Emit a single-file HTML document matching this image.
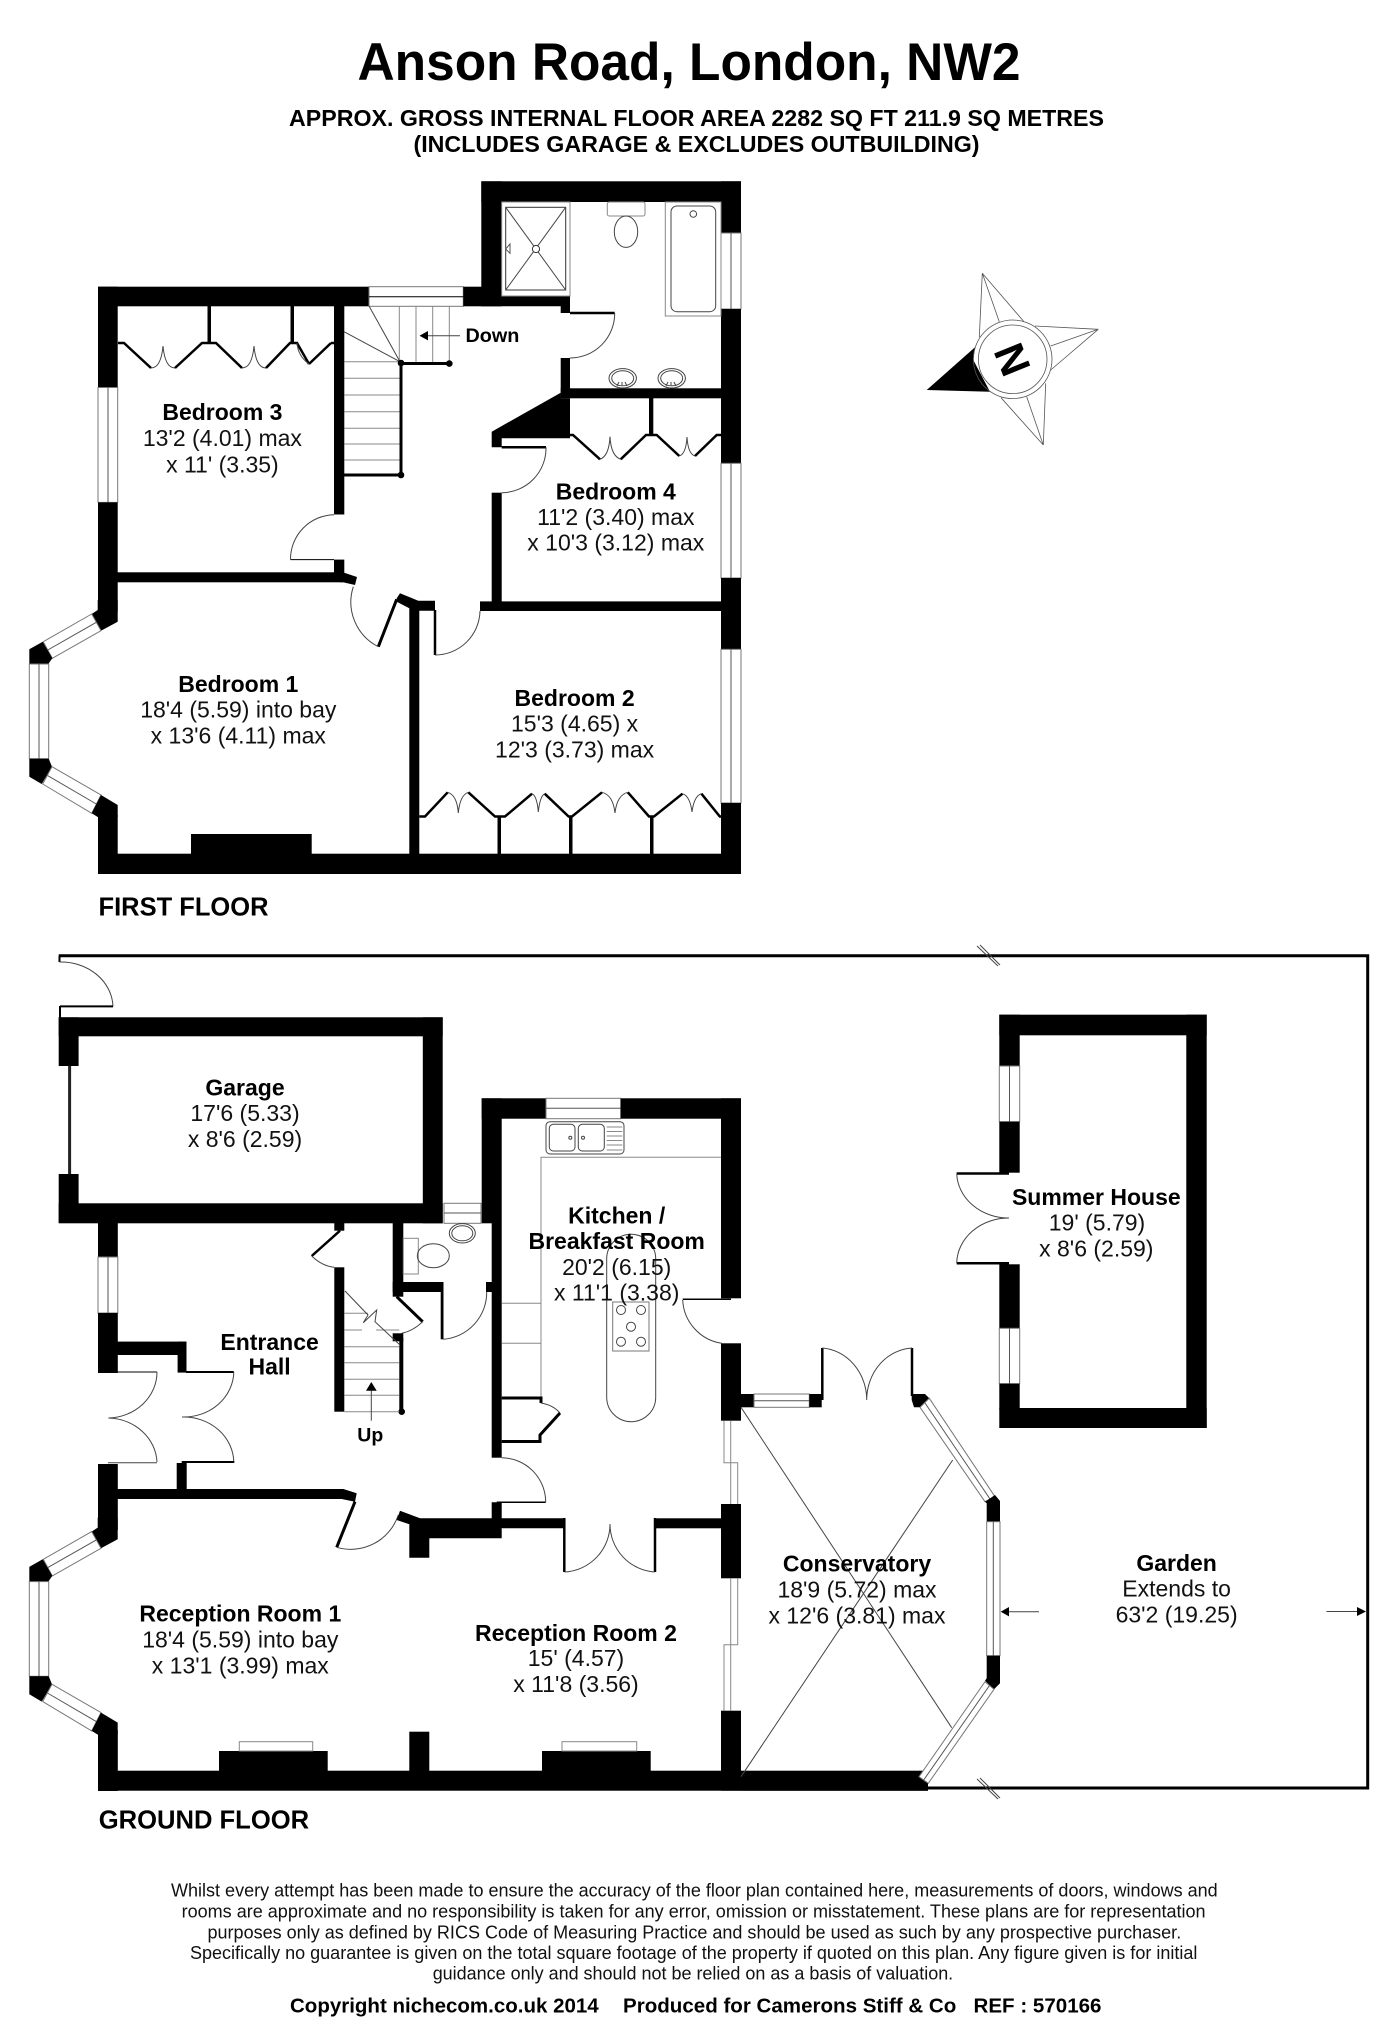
<!DOCTYPE html>
<html><head><meta charset="utf-8"><title>Anson Road, London, NW2</title>
<style>
html,body{margin:0;padding:0;background:#fff}
svg{display:block;position:absolute;left:0;top:0}
text{font-family:"Liberation Sans",Arial,sans-serif;fill:#000}
.b{font-weight:bold;font-size:23px;text-anchor:middle}
.r{font-size:23px;text-anchor:middle;fill:#111}
.f{font-size:18px;fill:#111}
.c{font-weight:bold;font-size:20px}
.k{fill:#000;stroke:none}
.w{fill:#fff;stroke:#777;stroke-width:1}
.m{fill:none;stroke:#555;stroke-width:1}
.t{fill:none;stroke:#444;stroke-width:1}
.g{fill:none;stroke:#888;stroke-width:1}
.d{fill:none;stroke:#000;stroke-width:2.5}
.h{fill:none;stroke:#000;stroke-width:3}
</style></head><body>
<svg xmlns="http://www.w3.org/2000/svg" width="1388" height="2025" viewBox="0 0 1388 2025">
<rect width="1388" height="2025" fill="#fff"/>
<defs>
<g id="bay">
<polygon class="k" points="97.7,600 117.7,600 117.7,621.7 101,630.7 91.7,614 97.7,610"/>
<polygon class="w" points="91.7,614 101,630.7 52.3,658.3 43.3,641.7"/>
<line class="m" x1="96.3" y1="622.3" x2="47.8" y2="650"/>
<polygon class="k" points="42.7,641.7 29.3,649.3 29.3,664 48.3,664 52.3,658.3"/>
<rect class="w" x="29.3" y="664" width="19.4" height="94.7"/>
<line class="m" x1="39" y1="664" x2="39" y2="758.7"/>
<polygon class="k" points="29.3,758.7 48.7,758.7 52,766.7 41.7,784 29.3,776.7"/>
<polygon class="w" points="52,766.7 101,795 91.7,813.3 42.7,784"/>
<line class="m" x1="47.4" y1="775.4" x2="96.3" y2="804"/>
<polygon class="k" points="101,795 117.7,805 117.7,817 97.7,817 91.7,813.3"/>
</g>
</defs>

<!-- Titles -->
<text x="689" y="80" font-weight="bold" font-size="53" text-anchor="middle" textLength="663" lengthAdjust="spacingAndGlyphs">Anson Road, London, NW2</text>
<text x="696.5" y="126" font-weight="bold" font-size="23.5" text-anchor="middle" textLength="815" lengthAdjust="spacingAndGlyphs">APPROX. GROSS INTERNAL FLOOR AREA 2282 SQ FT 211.9 SQ METRES</text>
<text x="696.5" y="152" font-weight="bold" font-size="23.5" text-anchor="middle" textLength="566" lengthAdjust="spacingAndGlyphs">(INCLUDES GARAGE &amp; EXCLUDES OUTBUILDING)</text>

<!-- FIRST FLOOR -->
<g>
<!-- outer walls -->
<rect class="k" x="98" y="286.7" width="271" height="19.6"/>
<rect class="w" x="369" y="286.7" width="94.3" height="19.6"/>
<line x1="369" y1="296.7" x2="463.3" y2="296.7" stroke="#000" stroke-width="1"/>
<rect class="k" x="463.3" y="286.7" width="38" height="19.6"/>
<rect class="k" x="481.3" y="181.3" width="20.4" height="125"/>
<rect class="k" x="481.3" y="181.3" width="259.7" height="20.7"/>
<polygon class="k" points="501,296 570,296 570,313 560.7,313 560.7,306.3 501,306.3"/>
<rect class="k" x="721" y="181.3" width="20" height="51.7"/>
<rect class="w" x="721" y="233" width="20" height="76"/>
<line class="m" x1="731" y1="233" x2="731" y2="309"/>
<rect class="k" x="721" y="309" width="20" height="154.3"/>
<rect class="w" x="721" y="463.3" width="20" height="114.7"/>
<line class="m" x1="731" y1="463.3" x2="731" y2="578"/>
<rect class="k" x="721" y="578" width="20" height="71.3"/>
<rect class="w" x="721" y="649.3" width="20" height="153.7"/>
<line class="m" x1="731" y1="649.3" x2="731" y2="803"/>
<rect class="k" x="721" y="803" width="20" height="71"/>
<rect class="k" x="98" y="853.7" width="643" height="20.3"/>
<rect class="k" x="191" y="834" width="120.7" height="22"/>
<rect class="k" x="98" y="286.7" width="19.7" height="100.8"/>
<rect class="w" x="98" y="387.5" width="19.7" height="114.9"/>
<line class="m" x1="108" y1="387.5" x2="108" y2="502.4"/>
<rect class="k" x="98" y="502.4" width="19.7" height="109"/>
<rect class="k" x="98" y="815" width="19.7" height="45"/>
<use href="#bay"/>
<!-- internal walls -->
<rect class="k" x="98" y="572.3" width="245" height="10"/>
<polygon class="k" points="342,572 357,577 355,585 343,582.3 340,582.3 340,572"/>
<rect class="k" x="334" y="306" width="10.3" height="208.5"/>
<rect class="k" x="334" y="559.6" width="10.3" height="14"/>
<line class="d" x1="290.5" y1="559.6" x2="334" y2="559.6" style="stroke-width:1"/>
<path class="t" d="M334,514.7 A44.5,44.5 0 0 0 290.5,559.6"/>
<polygon class="k" points="396.7,598.3 400,593.3 418.3,600.7 435,600.7 435,610.7 419.3,610.7 409.3,608.3 396.7,601.7"/>
<rect class="k" x="409.3" y="606" width="10" height="250"/>
<line class="h" x1="396.7" y1="599.3" x2="378.3" y2="646.7"/>
<path class="t" d="M378.3,646.7 A50,50 0 0 1 353.3,586.7"/>
<line class="d" x1="435" y1="610" x2="435" y2="655"/>
<path class="t" d="M435,655 A45,45 0 0 0 480,611"/>
<rect class="k" x="480" y="601.4" width="241" height="9.6"/>
<rect class="k" x="491.7" y="492.7" width="10" height="110"/>
<line class="d" x1="501.7" y1="447.3" x2="546" y2="447.3"/>
<path class="t" d="M546,447.3 A44.5,44.5 0 0 1 501.7,492.7"/>
<polygon class="k" points="560.7,392.7 491.7,431.7 491.7,447.3 501.7,447.3 501.7,438.3 570,438.3 570,398.3 560.7,398.3"/>
<rect class="k" x="560.7" y="358" width="9.3" height="40"/>
<rect class="k" x="560.7" y="388.3" width="160.3" height="10"/>
<line class="d" x1="570" y1="313" x2="614.7" y2="313"/>
<path class="t" d="M614.7,313 A44.7,44.7 0 0 1 570,358"/>
<!-- shower -->
<rect class="g" x="501.7" y="202" width="68.3" height="94"/>
<rect x="505.7" y="207.3" width="60" height="82.7" fill="none" stroke="#333" stroke-width="1"/>
<path class="t" d="M505.7,207.3L565.7,290M565.7,207.3L505.7,290"/>
<circle cx="536" cy="249" r="3.6" fill="#fff" stroke="#333"/>
<polygon points="505.7,249 510,244 510,253.3" fill="#fff" stroke="#555"/>
<!-- toilet -->
<rect class="g" x="607.3" y="202" width="37.7" height="14" rx="2"/>
<ellipse class="t" cx="626" cy="231.7" rx="11.7" ry="15.7"/>
<!-- bath -->
<rect class="g" x="665.3" y="202" width="55.7" height="114"/>
<rect class="t" x="671" y="206" width="44.7" height="105.7" rx="6"/>
<circle class="t" cx="693.3" cy="214" r="3.3"/>
<!-- basins -->
<ellipse class="t" cx="622.7" cy="378.3" rx="13.7" ry="9.7"/>
<ellipse class="t" cx="622.7" cy="378.3" rx="11" ry="7.5"/>
<path class="t" d="M617,386l2,-4m3,0l0,3m5,1l-2,-4"/>
<ellipse class="t" cx="671.7" cy="378.3" rx="13.7" ry="9.7"/>
<ellipse class="t" cx="671.7" cy="378.3" rx="11" ry="7.5"/>
<path class="t" d="M666,386l2,-4m3,0l0,3m5,1l-2,-4"/>
<!-- stairs first -->
<path class="g" d="M344.3,361.7H400M344.3,378.3H400M344.3,395H400M344.3,411.7H400M344.3,428.3H400M344.3,444H400M344.3,460H400"/>
<path class="g" d="M399.3,306V363M416,306V363M432.7,306V363M449.3,306V363"/>
<path class="t" d="M369,306L400,361.7M344,331.7L400,361.7"/>
<line x1="344" y1="475" x2="401" y2="475" stroke="#000" stroke-width="3"/>
<line x1="401" y1="363" x2="401" y2="475" stroke="#000" stroke-width="3"/>
<line x1="401" y1="363.5" x2="449.3" y2="363.5" stroke="#000" stroke-width="3"/>
<circle cx="401" cy="363" r="3.3"/><circle cx="401" cy="475" r="3.3"/><circle cx="449.3" cy="363.6" r="3.3"/>
<line class="t" x1="422" y1="335.7" x2="460" y2="335.7"/>
<polygon points="419.5,335.7 428,331 428,340.4"/>
<text x="465.5" y="342" font-weight="bold" font-size="19.8">Down</text>
<!-- wardrobes bed 3 -->
<rect class="k" x="207.5" y="306" width="3.5" height="38"/>
<rect class="k" x="290.5" y="306" width="3.5" height="38"/>
<path class="d" d="M118,343H124L151,368M175,368L202,343H216L242,368M266,368L290,343H297L309,364M331,343L309,364M331,343H334"/>
<path class="t" d="M151,368Q161,368 163,346Q165,368 175,368M242,368Q252,368 254,346Q256,368 266,368M297,343Q298,356 309,364"/>
<!-- wardrobes bed 4 -->
<rect class="k" x="649" y="398" width="4.3" height="37"/>
<path class="d" d="M570,435H573L600,459.3M620.7,459.3L646,435H656.7L679.3,456M695,456L716.7,435H721"/>
<path class="t" d="M600,459.3Q609,456 610,436.7Q611,456 620.7,459.3M679.3,456Q686,454 687,437Q688,454 695,456"/>
<!-- wardrobes bed 2 -->
<path class="d" d="M419.3,816.5H425L447.7,792.3M468.3,792.3L495,816.5H505L532,793.7M544.7,793.7L568.6,816.5H572L602,792.3M627.8,792.3L649,816.5H654L682.5,793.7M701.4,793.7L719.8,816.5H721"/>
<path class="t" d="M447.7,792.3Q457,795 458.3,813Q460,795 468.3,792.3M532,793.7Q537,796 538.3,812Q540,796 544.7,793.7M602,792.3Q613,795 615,813Q617,795 627.8,792.3M682.5,793.7Q690,796 692,812Q694,796 701.4,793.7"/>
<rect class="k" x="497.5" y="816.5" width="3.5" height="38"/>
<rect class="k" x="569" y="816.5" width="3.5" height="38"/>
<rect class="k" x="650" y="816.5" width="3.5" height="38"/>
</g>
<!-- First floor labels -->
<text class="b" x="222.4" y="420">Bedroom 3</text>
<text class="r" x="222.4" y="446.2">13'2 (4.01) max</text>
<text class="r" x="222.4" y="472.3">x 11' (3.35)</text>
<text class="b" x="615.8" y="499.3">Bedroom 4</text>
<text class="r" x="615.8" y="525">11'2 (3.40) max</text>
<text class="r" x="615.8" y="550.7">x 10'3 (3.12) max</text>
<text class="b" x="238.3" y="692.2">Bedroom 1</text>
<text class="r" x="238.3" y="717.5">18'4 (5.59) into bay</text>
<text class="r" x="238.3" y="743.3">x 13'6 (4.11) max</text>
<text class="b" x="574.6" y="706">Bedroom 2</text>
<text class="r" x="574.6" y="731.7">15'3 (4.65) x</text>
<text class="r" x="574.6" y="757.4">12'3 (3.73) max</text>
<text x="98.5" y="915.3" font-weight="bold" font-size="25.5">FIRST FLOOR</text>

<!-- Compass -->
<g>
<path d="M982.3,273.3L979.3,337.3M982.3,273.3L999.3,321.7M982.3,273.3L1024,321.7M1098.3,329.3L1035,326M1098.3,329.3L1050.7,346M1098.3,329.3L1050.7,370M1043.3,445L1045.7,383.3M1043.3,445L1026.7,396.7M1043.3,445L1001,397.7" fill="none" stroke="#555" stroke-width=".8"/>
<polygon class="k" points="926.7,390 975,347.3 973.3,360 990,391.7"/>
<circle cx="1012.7" cy="359.3" r="39.3" fill="none" stroke="#555" stroke-width=".8"/>
<circle cx="1012.7" cy="359.3" r="34.3" fill="none" stroke="#555" stroke-width=".8"/>
<text transform="translate(1012.7 359.3) rotate(68)" x="0" y="15" font-weight="bold" font-size="42" text-anchor="middle">N</text>
</g>

<!-- GROUND FLOOR -->
<!-- garden boundary -->
<path d="M58.7,955.8H1367.7V1788H928" fill="none" stroke="#000" stroke-width="3"/>
<path class="t" d="M977,946L998,966M980,945L1000,965M977,1779L998,1799M980,1778L1000,1798"/>
<line x1="59.5" y1="955.8" x2="59.5" y2="962" stroke="#000" stroke-width="2"/>
<path class="t" d="M59.5,962 A52,46 0 0 1 113,1006.4"/>
<line x1="60" y1="1006.4" x2="113" y2="1006.4" stroke="#000" stroke-width="2"/>
<line x1="60" y1="1006" x2="60" y2="1018" stroke="#000" stroke-width="2"/>
<!-- arrows -->
<line class="t" x1="1007" y1="1611.7" x2="1039" y2="1611.7"/>
<polygon points="1000.7,1611.7 1009,1607 1009,1616.4"/>
<line class="t" x1="1326.5" y1="1611.5" x2="1358" y2="1611.5"/>
<polygon points="1366,1611.5 1357,1607 1357,1616"/>
<!-- garage -->
<rect class="k" x="58.7" y="1017.3" width="384" height="19"/>
<rect class="k" x="422.8" y="1017.3" width="19.9" height="206"/>
<rect class="k" x="58.7" y="1203.3" width="384" height="20"/>
<rect class="k" x="58.7" y="1017.3" width="19.9" height="48.7"/>
<rect class="k" x="58.7" y="1174" width="19.9" height="49"/>
<line x1="69.6" y1="1066" x2="69.6" y2="1174" stroke="#222" stroke-width="3"/>
<!-- west wall -->
<rect class="k" x="98" y="1223" width="19.8" height="34"/>
<rect class="w" x="98" y="1257" width="19.8" height="56"/>
<line class="m" x1="108" y1="1257" x2="108" y2="1313"/>
<rect class="k" x="98" y="1313" width="19.8" height="60"/>
<rect class="k" x="117" y="1341.6" width="69.5" height="13.4"/>
<rect class="k" x="177.6" y="1341.6" width="8.9" height="31"/>
<line x1="186" y1="1372" x2="233.8" y2="1372" stroke="#000" stroke-width="2"/>
<line class="d" x1="117" y1="1372" x2="157" y2="1372" style="stroke-width:1"/>
<path class="t" d="M157,1372 A50,46 0 0 1 108.4,1418 A50,46 0 0 1 157,1462M233.8,1372 A50,46 0 0 1 182,1417 A50,46 0 0 1 233.8,1462"/>
<line class="t" x1="108" y1="1462.7" x2="157" y2="1462.7"/>
<line x1="181.7" y1="1462" x2="234.3" y2="1462" stroke="#000" stroke-width="2"/>
<rect class="k" x="98" y="1464" width="19.8" height="66"/>
<rect class="k" x="176.7" y="1463" width="10" height="30"/>
<polygon class="k" points="117,1489 343.3,1489 356.7,1493.3 355,1501.7 341.7,1499 117,1499"/>
<line class="h" x1="355" y1="1501.7" x2="336.7" y2="1547.3"/>
<path class="t" d="M336.7,1547.3 A50,50 0 0 0 398.3,1515"/>
<!-- bay ground -->
<use href="#bay" transform="translate(0 917.6)"/>
<!-- south -->
<rect class="k" x="98" y="1730" width="19.8" height="61"/>
<rect class="k" x="98" y="1770.7" width="830" height="20"/>
<polygon class="k" points="741,1777.3 920,1777.3 928,1788 928,1790.7 741,1790.7"/>
<rect class="k" x="219" y="1751" width="108.7" height="22"/>
<rect class="g" x="239.3" y="1741.7" width="73.4" height="9.3"/>
<rect class="k" x="409.3" y="1731.7" width="20" height="41"/>
<rect class="k" x="542" y="1751" width="108.7" height="22"/>
<rect class="g" x="562" y="1741.7" width="74.7" height="9.3"/>
<!-- reception/hall/kitchen walls -->
<polygon class="k" points="400,1510.7 420,1518.3 491.7,1518.3 491.7,1502.3 501.7,1502.3 501.7,1518.3 564.3,1518.3 564.3,1528.3 501.7,1528.3 429.3,1538.3 429.3,1557.7 409.3,1557.7 409.3,1524.3 396.7,1520"/>
<polygon class="k" points="429.3,1528.3 501.7,1528.3 501.7,1538.3 429.3,1538.3"/>
<rect class="k" x="655" y="1518.3" width="66" height="10"/>
<line class="d" x1="564.3" y1="1518" x2="564.3" y2="1572"/>
<line class="d" x1="655" y1="1518" x2="655" y2="1572"/>
<path class="t" d="M564.6,1572 A48,48 0 0 0 610,1524 A48,48 0 0 0 654.6,1572"/>
<line class="d" x1="496.7" y1="1502.3" x2="545.7" y2="1502.3" style="stroke-width:1.5"/>
<path class="t" d="M545.7,1502.3 A44.5,44.5 0 0 0 501.7,1457.7"/>
<!-- kitchen -->
<rect class="k" x="481.7" y="1098.3" width="20" height="125"/>
<rect class="k" x="491.7" y="1223" width="10" height="234.7"/>
<rect class="k" x="486" y="1282" width="6" height="10"/>
<rect class="k" x="481.7" y="1098.3" width="64.3" height="20.4"/>
<rect class="w" x="546" y="1098.3" width="74.7" height="20.4"/>
<line class="m" x1="546" y1="1108.3" x2="620.7" y2="1108.3"/>
<rect class="k" x="620.7" y="1098.3" width="120.3" height="20.4"/>
<rect class="k" x="721" y="1098.3" width="20" height="200"/>
<rect class="k" x="721" y="1343.3" width="20" height="77.4"/>
<rect class="k" x="721" y="1504" width="20" height="74.3"/>
<rect class="k" x="721" y="1710.7" width="20" height="80"/>
<line class="d" x1="682.7" y1="1299.3" x2="731" y2="1299.3" style="stroke-width:1.5"/>
<path class="t" d="M682.7,1300 A46,46 0 0 0 721.7,1343.3"/>
<!-- worktop -->
<path class="g" d="M721,1157.3H541V1400M501.7,1303.3H541M501.7,1343.3H541"/>
<!-- sink -->
<rect class="t" x="546" y="1121.7" width="78" height="32.3" rx="4"/>
<rect class="t" x="549.3" y="1124.3" width="25.7" height="26.7" rx="4"/>
<rect class="t" x="578.3" y="1124.3" width="26" height="26.7" rx="4"/>
<circle class="t" cx="570.3" cy="1137.7" r="1.5"/><circle class="t" cx="583" cy="1137.7" r="1.5"/>
<path class="g" d="M606.7,1127H622.3M606.7,1131.5H622.3M606.7,1136H622.3M606.7,1140.5H622.3M606.7,1145H622.3M606.7,1150H622.3"/>
<!-- island -->
<rect class="t" x="606.7" y="1234.3" width="49" height="187.4" rx="24.5"/>
<rect x="612.7" y="1302" width="36.3" height="49" fill="#fff" stroke="#777"/>
<circle class="t" cx="621" cy="1310" r="4.5"/><circle class="t" cx="641" cy="1310" r="4.5"/><circle class="t" cx="631" cy="1326.7" r="4.5"/><circle class="t" cx="621" cy="1341.7" r="4.5"/><circle class="t" cx="641" cy="1341.7" r="4.5"/>
<!-- cupboard -->
<path class="h" d="M501.7,1398H541V1403"/>
<path class="t" d="M541,1403Q553,1405 560,1413"/>
<path class="h" d="M560,1413L540,1435V1441.5H501.7"/>
<!-- WC -->
<rect class="w" x="444" y="1203.3" width="37" height="20"/>
<line class="m" x1="444" y1="1213" x2="481" y2="1213"/>
<rect class="k" x="392.7" y="1223" width="10.6" height="73.7"/>
<rect class="k" x="392.7" y="1282" width="49" height="10"/>
<rect class="k" x="440.7" y="1282" width="2.8" height="57.3"/>
<path class="t" d="M443,1339.3 A47,47 0 0 0 486.7,1291.7"/>
<rect class="g" x="403.3" y="1238.3" width="15" height="35.7"/>
<ellipse class="t" cx="433.3" cy="1255.7" rx="16" ry="12"/>
<ellipse class="t" cx="462.3" cy="1233.3" rx="13" ry="9.7"/>
<ellipse class="t" cx="462.3" cy="1233.3" rx="10.5" ry="7.5"/>
<!-- stair walls -->
<rect class="k" x="334.3" y="1223" width="10" height="7.7"/>
<line class="d" x1="340" y1="1230.7" x2="311.7" y2="1256"/>
<path class="t" d="M311.7,1256 Q322,1266 334.3,1267.3"/>
<rect class="k" x="334.3" y="1267.3" width="10" height="144.4"/>
<line class="h" x1="396.7" y1="1296.7" x2="422.7" y2="1321.7"/>
<path class="t" d="M422.7,1321.7 Q413,1331 401.7,1333.3"/>
<rect class="k" x="392.7" y="1333.3" width="10.6" height="8"/>
<rect class="k" x="399.3" y="1338" width="4" height="73.7"/>
<circle cx="401.7" cy="1411.7" r="3.3"/>
<path class="g" d="M344.3,1313.3H368M376,1330H399.3M344.3,1330H362M344.3,1346.7H399.3M344.3,1362.7H399.3M344.3,1379.3H399.3M344.3,1395.3H399.3M344.3,1411.7H399.3"/>
<path class="t" d="M345,1291L368,1315L363.3,1322.7L376.7,1310L375,1321.7L400,1345"/>
<line class="t" x1="371.3" y1="1388" x2="371.3" y2="1420.7"/>
<polygon points="371.3,1382 376.7,1390.7 366,1390.7"/>
<text x="357.3" y="1441.7" font-weight="bold" font-size="19.5">Up</text>
<!-- conservatory -->
<path class="g" d="M724,1421V1462.7H730.7V1504M730.7,1421V1462.7H737.7V1504"/>
<path class="g" d="M737.7,1578V1644.7H730.7V1710.7M730.7,1578V1644.7H724V1710.7"/>
<rect class="k" x="741" y="1394" width="13" height="13.3"/>
<rect class="w" x="754" y="1394" width="55.3" height="13.3"/>
<line class="m" x1="754" y1="1400.7" x2="809.3" y2="1400.7"/>
<rect class="k" x="809.3" y="1394" width="12.4" height="13.3"/>
<line class="d" x1="822.3" y1="1348" x2="822.3" y2="1400"/>
<line class="d" x1="912" y1="1348" x2="912" y2="1396"/>
<path class="t" d="M822.3,1348 A48,52 0 0 1 866.7,1400 A48,52 0 0 1 912,1348"/>
<polygon class="k" points="911.7,1394 925,1394 929.3,1398.3 920,1407.3 914,1407.3 911.7,1400"/>
<polygon class="w" points="920,1407.3 929.3,1398.3 995,1496.7 985,1501.7"/>
<line class="m" x1="925" y1="1403" x2="990" y2="1499"/>
<polygon class="k" points="985,1501.7 995,1495 1000,1501 1000,1521.7 986.7,1521.7 986.7,1503.3"/>
<rect class="w" x="986.7" y="1521.7" width="13.3" height="134"/>
<line class="m" x1="993.3" y1="1521.7" x2="993.3" y2="1655.7"/>
<polygon class="k" points="986.7,1655.7 1000,1655.7 1000,1683.3 994,1689.3 985,1680.7 986.7,1678.3"/>
<polygon class="w" points="985,1681.7 994,1689.3 928.3,1783.3 919,1776.7"/>
<line class="m" x1="989.5" y1="1685.5" x2="923.7" y2="1780"/>
<path class="t" d="M741,1407.3L951.7,1727.7M741,1776.7L952.7,1460"/>
<!-- summer house -->
<rect class="k" x="999.3" y="1014.7" width="207.4" height="20.6"/>
<rect class="k" x="999.3" y="1408" width="207.4" height="20"/>
<rect class="k" x="1186.3" y="1014.7" width="20.4" height="413.3"/>
<rect class="k" x="999.3" y="1014.7" width="20.4" height="51.3"/>
<rect class="w" x="999.3" y="1066" width="20.4" height="55.7"/>
<line class="m" x1="1009.5" y1="1066" x2="1009.5" y2="1121.7"/>
<rect class="k" x="999.3" y="1121.7" width="20.4" height="51"/>
<rect class="k" x="999.3" y="1264.3" width="20.4" height="64"/>
<rect class="w" x="999.3" y="1328.3" width="20.4" height="55.4"/>
<line class="m" x1="1009.5" y1="1328.3" x2="1009.5" y2="1383.7"/>
<rect class="k" x="999.3" y="1383.7" width="20.4" height="26"/>
<line class="d" x1="956.7" y1="1173.5" x2="1009" y2="1173.5"/>
<line class="d" x1="956.7" y1="1263.3" x2="1009" y2="1263.3"/>
<path class="t" d="M956.7,1173.5 A52,46 0 0 0 1009,1218 A52,46 0 0 0 956.7,1263.3"/>

<!-- Ground labels -->
<text class="b" x="245" y="1095.5">Garage</text>
<text class="r" x="245" y="1121">17'6 (5.33)</text>
<text class="r" x="245" y="1147">x 8'6 (2.59)</text>
<text class="b" x="269.6" y="1350">Entrance</text>
<text class="b" x="269.6" y="1374.5">Hall</text>
<text class="b" x="616.7" y="1223.3">Kitchen /</text>
<text class="b" x="616.7" y="1249">Breakfast Room</text>
<text class="r" x="616.7" y="1275">20'2 (6.15)</text>
<text class="r" x="616.7" y="1300.7">x 11'1 (3.38)</text>
<text class="b" x="1096.3" y="1205">Summer House</text>
<text class="r" x="1097" y="1230.7">19' (5.79)</text>
<text class="r" x="1096.3" y="1256.7">x 8'6 (2.59)</text>
<text class="b" x="240.3" y="1621.7">Reception Room 1</text>
<text class="r" x="240.3" y="1647.7">18'4 (5.59) into bay</text>
<text class="r" x="240.3" y="1673.3">x 13'1 (3.99) max</text>
<text class="b" x="576" y="1640.8">Reception Room 2</text>
<text class="r" x="576" y="1666">15' (4.57)</text>
<text class="r" x="576" y="1692">x 11'8 (3.56)</text>
<text class="b" x="857" y="1571.7">Conservatory</text>
<text class="r" x="857" y="1597.3">18'9 (5.72) max</text>
<text class="r" x="857" y="1623.3">x 12'6 (3.81) max</text>
<text class="b" x="1176.6" y="1571">Garden</text>
<text class="r" x="1176.6" y="1596.3">Extends to</text>
<text class="r" x="1176.6" y="1622.5">63'2 (19.25)</text>
<text x="98.7" y="1828.7" font-weight="bold" font-size="25.6">GROUND FLOOR</text>

<!-- Footer -->
<text class="f" x="171" y="1896.7" textLength="1046.7" lengthAdjust="spacingAndGlyphs">Whilst every attempt has been made to ensure the accuracy of the floor plan contained here, measurements of doors, windows and</text>
<text class="f" x="181.6" y="1917.3" textLength="1024" lengthAdjust="spacingAndGlyphs">rooms are approximate and no responsibility is taken for any error, omission or misstatement. These plans are for representation</text>
<text class="f" x="207.5" y="1938.3" textLength="973.7" lengthAdjust="spacingAndGlyphs">purposes only as defined by RICS Code of Measuring Practice and should be used as such by any prospective purchaser.</text>
<text class="f" x="190" y="1959" textLength="1007.4" lengthAdjust="spacingAndGlyphs">Specifically no guarantee is given on the total square footage of the property if quoted on this plan. Any figure given is for initial</text>
<text class="f" x="432.7" y="1979.3" textLength="520.5" lengthAdjust="spacingAndGlyphs">guidance only and should not be relied on as a basis of valuation.</text>
<text class="c" x="290" y="2012.5" textLength="308.7" lengthAdjust="spacingAndGlyphs">Copyright nichecom.co.uk 2014</text>
<text class="c" x="623" y="2012.5" textLength="333.3" lengthAdjust="spacingAndGlyphs">Produced for Camerons Stiff &amp; Co</text>
<text class="c" x="973.5" y="2012.5" textLength="128" lengthAdjust="spacingAndGlyphs">REF : 570166</text>
</svg>
</body></html>
